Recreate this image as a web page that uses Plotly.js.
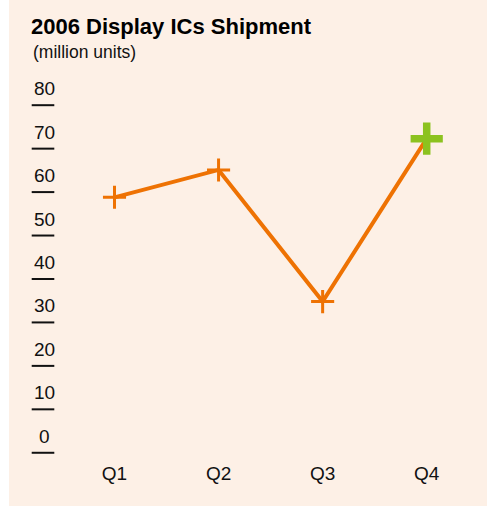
<!DOCTYPE html>
<html>
<head>
<meta charset="utf-8">
<script src="https://cdn.plot.ly/plotly-3.0.1.min.js"></script>
<style>html,body{margin:0;padding:0;background:#fff;}#chart{width:487px;height:506px;}</style>
</head>
<body>
<div id="chart"></div>
<script>
// ---- data ----
const quarters = ["Q1", "Q2", "Q3", "Q4"];
const shipments = [55, 61.3, 31, 68.5];
const yTickValues = [0, 10, 20, 30, 40, 50, 60, 70, 80];
const yTickLabels = ["0", "10", "20", "30", "40", "50", "60", "70", "80"];
const titleText = "2006 Display ICs Shipment";
const unitText = "(million units)";

// ---- layout geometry ----
const W = 487, H = 506;
const M = {l: 60, r: 10, t: 80, b: 48};
const pw = W - M.l - M.r, ph = H - M.t - M.b;
const yRange = [-5, 82];
const pxPerUnit = ph / (yRange[1] - yRange[0]);
const px2paperX = p => (p - M.l) / pw;
const px2paperY = p => (H - M.b - p) / ph;

const FONT = "'Liberation Sans', Arial, sans-serif";
const orange = "#EE7203";
const green = "#8CC21F";

const n = quarters.length;
const markerColors = quarters.map((q, i) => i === n - 1 ? green : orange);
const markerSizes = quarters.map((q, i) => i === n - 1 ? 23 : 16.5);
const markerWidths = quarters.map((q, i) => i === n - 1 ? 7.5 : 3);

const trace = {
  type: "scatter",
  mode: "lines+markers",
  x: quarters,
  y: shipments,
  line: {color: orange, width: 4},
  marker: {
    symbol: "cross-thin",
    size: markerSizes,
    color: markerColors,
    opacity: 1,
    line: {color: markerColors, width: markerWidths}
  },
  hoverinfo: "skip",
  cliponaxis: false
};

// underline marks below each tick label
const underlineOffset = 16.5 / pxPerUnit;
const shapes = [
  {type: "rect", xref: "paper", yref: "paper", layer: "below",
   x0: px2paperX(0), x1: px2paperX(9), y0: px2paperY(H), y1: px2paperY(0),
   fillcolor: "#ffffff", line: {width: 0}}
];
yTickValues.forEach(v => {
  shapes.push({type: "line", xref: "paper", yref: "y",
    x0: px2paperX(31.7), x1: px2paperX(54.3),
    y0: v - underlineOffset, y1: v - underlineOffset,
    line: {color: "#111111", width: 2}});
});

const annotations = yTickValues.map((v, i) => ({
  xref: "paper", yref: "y", x: px2paperX(44), y: v,
  text: yTickLabels[i], showarrow: false, xanchor: "center", yanchor: "middle",
  font: {family: FONT, size: 19, color: "#111111"}
}));
annotations.push({
  xref: "paper", yref: "paper", x: px2paperX(31), y: px2paperY(52),
  text: unitText, showarrow: false, xanchor: "left", yanchor: "middle",
  font: {family: FONT, size: 17.5, color: "#111111"}
});

const layout = {
  width: W, height: H,
  margin: M,
  paper_bgcolor: "#FDF0E6",
  plot_bgcolor: "rgba(0,0,0,0)",
  showlegend: false,
  title: {
    text: "<b>" + titleText + "</b>",
    xref: "container", yref: "container",
    x: 31 / W, xanchor: "left",
    y: 1 - 26 / H, yanchor: "middle",
    font: {family: FONT, size: 22, color: "#000000"}
  },
  xaxis: {
    type: "category",
    range: [-(114.5 - M.l) / 104.07, -(114.5 - M.l) / 104.07 + pw / 104.07],
    showgrid: false, zeroline: false, showline: false, ticks: "",
    tickfont: {family: FONT, size: 19, color: "#111111"},
    ticklabelstandoff: 2,
    fixedrange: true
  },
  yaxis: {
    range: yRange,
    showgrid: false, zeroline: false, showline: false, ticks: "",
    showticklabels: false,
    fixedrange: true
  },
  shapes: shapes,
  annotations: annotations
};

Plotly.newPlot("chart", [trace], layout, {staticPlot: true, displayModeBar: false});
</script>
</body>
</html>
